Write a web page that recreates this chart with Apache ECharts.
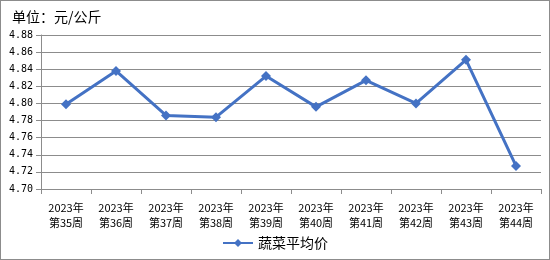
<!DOCTYPE html>
<html><head><meta charset="utf-8">
<script src="https://cdn.jsdelivr.net/npm/echarts@6/dist/echarts.min.js"></script>
<style>html,body{margin:0;padding:0;background:#fff}#c{width:550px;height:260px;box-sizing:border-box;border:1px solid #8c8c8c}</style>
</head><body><div id="c"></div>
<script>
const categories = ['2023年\n第35周','2023年\n第36周','2023年\n第37周','2023年\n第38周','2023年\n第39周','2023年\n第40周','2023年\n第41周','2023年\n第42周','2023年\n第43周','2023年\n第44周'];
const seriesName = '蔬菜平均价';
const values = [4.799, 4.838, 4.786, 4.784, 4.832, 4.796, 4.827, 4.800, 4.851, 4.727];
const unitTitle = '单位：元/公斤';
const yMin = 4.70, yMax = 4.88, yStep = 0.02;

const chart = echarts.init(document.getElementById('c'), null, {renderer:'canvas'});
chart.setOption({
  animation:false,
  title:{text:unitTitle,left:6,top:4,textStyle:{fontFamily:'Noto Sans CJK SC',fontSize:14,fontWeight:'normal',color:'#000'}},
  grid:{left:40,right:8,top:34,bottom:70},
  legend:{data:[seriesName],bottom:4,left:'center',itemWidth:30,itemHeight:10,itemGap:6,
    textStyle:{fontFamily:'Noto Sans CJK SC',fontSize:14,color:'#000'}},
  xAxis:{type:'category',data:categories,boundaryGap:true,
    axisLine:{lineStyle:{color:'#8c8c8c',width:1}},
    axisTick:{show:true,length:5,lineStyle:{color:'#8c8c8c'}},
    axisLabel:{fontFamily:'Noto Sans CJK SC',fontSize:11,color:'#000',lineHeight:15,margin:11,interval:0}},
  yAxis:{type:'value',min:yMin,max:yMax,interval:yStep,
    axisLine:{show:true,lineStyle:{color:'#8c8c8c'}},
    axisTick:{show:true,length:5,lineStyle:{color:'#8c8c8c'}},
    splitLine:{lineStyle:{color:'#8c8c8c',width:1}},
    axisLabel:{fontFamily:'DejaVu Sans Mono',fontSize:10,color:'#000',margin:8,formatter:v=>v.toFixed(2)}},
  series:[{name:seriesName,type:'line',data:values,symbol:'diamond',symbolSize:10,
    lineStyle:{color:'#4472C4',width:3},itemStyle:{color:'#4472C4'}}]
});
</script></body></html>
